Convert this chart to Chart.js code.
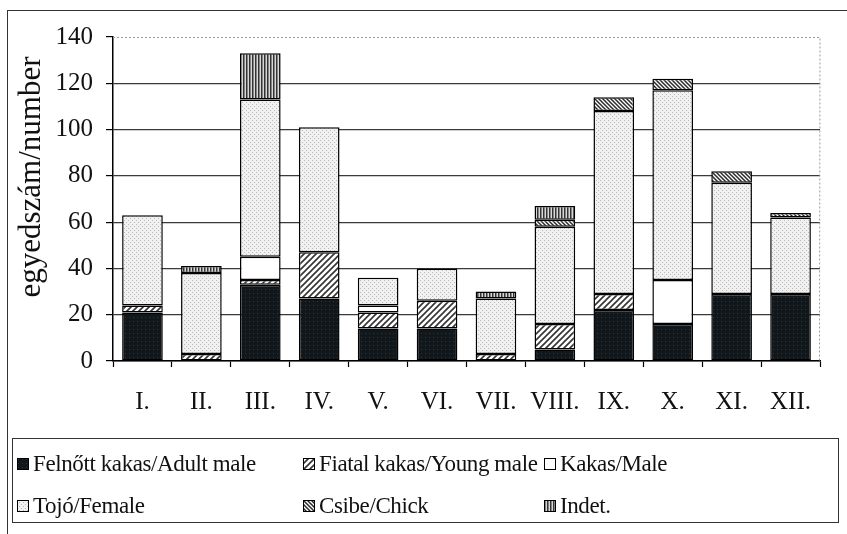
<!DOCTYPE html>
<html>
<head>
<meta charset="utf-8">
<script src="https://cdn.jsdelivr.net/npm/chart.js@4.4.1/dist/chart.umd.min.js"></script>
<style>
  html, body { margin: 0; padding: 0; background: #fff; }
  body { width: 847px; height: 534px; overflow: hidden; position: relative;
         font-family: 'Liberation Serif', 'Times New Roman', serif; color: #111; }
  #frame { position: absolute; left: 7px; top: 10px; width: 850px; height: 540px;
           border-left: 1px solid #333; border-top: 1px solid #333; }
  #chart { position: absolute; left: 0; top: 0; }
  #ytitle { position: absolute; left: 30px; top: 177px; font-size: 31px; white-space: nowrap;
            transform: translate(-50%, -50%) rotate(-90deg); }
  #legend { position: absolute; left: 12px; top: 438px; width: 827px; height: 85px;
            border: 1.3px solid #333; box-sizing: border-box; }
  .item { position: absolute; font-size: 23px; line-height: 30px; white-space: nowrap; letter-spacing: -0.4px; }
  .item canvas { position: absolute; left: 0; top: 9px; }
  .item span { position: absolute; left: 16px; top: 0; }
</style>
</head>
<body>
<div id="frame"></div>
<canvas id="chart" width="847" height="430"></canvas>
<div id="ytitle">egyedszám/number</div>
<div id="legend"></div>
<script>
'use strict';

const months = ['I.', 'II.', 'III.', 'IV.', 'V.', 'VI.', 'VII.', 'VIII.', 'IX.', 'X.', 'XI.', 'XII.'];
const adultMale = [21, 0, 33, 27, 14, 14, 0, 5, 22, 16, 29, 29];
const youngMale = [3, 3, 2, 20, 7, 12, 3, 11, 7, 0, 0, 0];
const male      = [0, 0, 10, 0, 3, 0, 0, 0, 0, 19, 0, 0];
const female    = [39, 35, 68, 54, 12, 14, 24, 42, 79, 82, 48, 33];
const chick     = [0, 0, 0, 0, 0, 0, 0, 3, 6, 5, 5, 2];
const indet     = [0, 3, 20, 0, 0, 0, 3, 6, 0, 0, 0, 0];
const yTicks    = [0, 20, 40, 60, 80, 100, 120, 140];

const FONT = "'Liberation Serif', 'Times New Roman', serif";

// fill patterns, like the scanned black & white original
function tile(n, draw) {
  const c = document.createElement('canvas');
  c.width = n; c.height = n;
  draw(c.getContext('2d'), n);
  return c;
}

const tiles = {
  dark: tile(4, (g, n) => {
    g.fillStyle = '#11171b'; g.fillRect(0, 0, n, n);
    g.fillStyle = '#2b353c'; g.fillRect(1, 1, 1, 1);
  }),
  up: tile(6, (g, n) => {
    g.fillStyle = '#fff'; g.fillRect(0, 0, n, n);
    g.strokeStyle = '#333'; g.lineWidth = 1.6;
    g.beginPath();
    g.moveTo(0, n); g.lineTo(n, 0);
    g.moveTo(-1, 1); g.lineTo(1, -1);
    g.moveTo(n - 1, n + 1); g.lineTo(n + 1, n - 1);
    g.stroke();
  }),
  white: tile(2, (g, n) => { g.fillStyle = '#fff'; g.fillRect(0, 0, n, n); }),
  dots: tile(4, (g, n) => {
    g.fillStyle = '#f1f1f1'; g.fillRect(0, 0, n, n);
    g.fillStyle = '#b9b9b9'; g.fillRect(0, 0, 1, 1); g.fillRect(2, 2, 1, 1);
  }),
  down: tile(4, (g, n) => {
    g.fillStyle = '#fff'; g.fillRect(0, 0, n, n);
    g.strokeStyle = '#2a2a2a'; g.lineWidth = 1.5;
    g.beginPath();
    g.moveTo(0, 0); g.lineTo(n, n);
    g.moveTo(-1, n - 1); g.lineTo(1, n + 1);
    g.moveTo(n - 1, -1); g.lineTo(n + 1, 1);
    g.stroke();
  }),
  vert: tile(3, (g, n) => {
    g.fillStyle = '#d8d8d8'; g.fillRect(0, 0, n, n);
    g.fillStyle = '#333'; g.fillRect(0, 0, 1.5, n);
  }),
};

const ctx = document.getElementById('chart').getContext('2d');
const pat = k => ctx.createPattern(tiles[k], 'repeat');

const series = [
  { label: 'Felnőtt kakas/Adult male', data: adultMale, fill: 'dark',  x: 4,   row: 0 },
  { label: 'Fiatal kakas/Young male',  data: youngMale, fill: 'up',    x: 290, row: 0 },
  { label: 'Kakas/Male',               data: male,      fill: 'white', x: 531, row: 0 },
  { label: 'Tojó/Female',              data: female,    fill: 'dots',  x: 4,   row: 1 },
  { label: 'Csibe/Chick',              data: chick,     fill: 'down',  x: 290, row: 1 },
  { label: 'Indet.',                   data: indet,     fill: 'vert',  x: 531, row: 1 },
];

// dotted top/right edge of the plot area
const plotEdge = {
  id: 'plotEdge',
  afterDraw(chart) {
    const a = chart.chartArea, g = chart.ctx;
    g.save();
    g.strokeStyle = '#9a9a9a'; g.lineWidth = 1;
    g.setLineDash([2, 2]);
    g.beginPath();
    g.moveTo(a.left, a.top + 0.5); g.lineTo(a.right, a.top + 0.5);
    g.lineTo(a.right - 0.5, a.bottom);
    g.stroke();
    g.restore();
  }
};

new Chart(ctx, {
  type: 'bar',
  data: {
    labels: months,
    datasets: series.map(s => ({
      label: s.label,
      data: s.data,
      backgroundColor: pat(s.fill),
      borderColor: '#000',
      borderWidth: 1.5,
      borderSkipped: false,
      barPercentage: 0.69,
      categoryPercentage: 1,
    })),
  },
  options: {
    responsive: false,
    animation: false,
    layout: { padding: { top: 37, right: 27, bottom: 0, left: 0 } },
    plugins: { legend: { display: false }, tooltip: { enabled: false } },
    scales: {
      x: {
        stacked: true,
        afterFit: s => { s.height = 69; },
        grid: { offset: true, drawOnChartArea: false, tickLength: 6, tickColor: '#000', tickWidth: 1.2 },
        border: { color: '#000', width: 1.5 },
        ticks: { color: '#111', padding: 20, font: { family: FONT, size: 25 } },
      },
      y: {
        stacked: true,
        min: 0, max: 140,
        afterFit: s => { s.width = 113; },
        afterBuildTicks: s => { s.ticks = yTicks.map(v => ({ value: v })); },
        grid: {
          color: c => c.tick && c.tick.value === 140 ? 'rgba(0,0,0,0)' : '#3a3a3a',
          lineWidth: 1.2, tickLength: 7, tickColor: '#000', tickWidth: 1.2,
        },
        border: { color: '#000', width: 1.5 },
        ticks: { color: '#111', padding: 13, font: { family: FONT, size: 25 } },
      },
    },
  },
  plugins: [plotEdge],
});

// legend as a boxed 3 x 2 grid
const legend = document.getElementById('legend');
series.forEach(s => {
  const el = document.createElement('div');
  el.className = 'item';
  el.style.left = s.x + 'px';
  el.style.top = (s.row === 0 ? 10 : 52) + 'px';
  const box = document.createElement('canvas');
  box.width = 12; box.height = 12;
  const g = box.getContext('2d');
  g.fillStyle = g.createPattern(tiles[s.fill], 'repeat');
  g.fillRect(0, 0, 12, 12);
  g.strokeStyle = '#000'; g.lineWidth = 1;
  g.strokeRect(0.5, 0.5, 11, 11);
  const txt = document.createElement('span');
  txt.textContent = s.label;
  el.appendChild(box);
  el.appendChild(txt);
  legend.appendChild(el);
});
</script>
</body>
</html>
